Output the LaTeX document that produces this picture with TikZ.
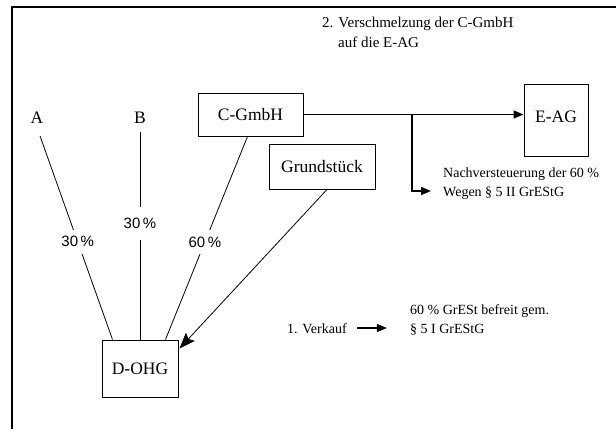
\documentclass[tikz,border=0pt]{standalone}
\usepackage{fontspec}
\setmainfont{Liberation Serif}
\newfontfamily\pctfont{Liberation Sans}
\usetikzlibrary{arrows.meta,calc}
\tikzset{
  box/.style={draw, line width=1pt, inner sep=0pt, font=\fontsize{17.5}{20}\selectfont},
  lbl/.style={inner sep=0pt, font=\fontsize{17.5}{20}\selectfont},
  note/.style={inner sep=0pt, align=left, anchor=base west, font=\fontsize{14}{19}\selectfont},
  pct/.style={fill=white, inner xsep=2pt, font=\pctfont\fontsize{15}{17}\selectfont},
  thin line/.style={line width=0.8pt},
  arr/.style={line width=1.5pt, -{Triangle[length=10pt,width=8pt]}},
}
\begin{document}
\begin{tikzpicture}[x=1pt,y=-1pt]
\useasboundingbox (0,0) rectangle (616,429);
% frame
\draw[line width=1.5pt] (12,429) -- (12,7) -- (616,7);

% nodes
\node[lbl] (A) at (37,118) {A};
\node[lbl] (B) at (140,118) {B};
\node[box, minimum width=105pt, minimum height=43pt] (C) at (250.5,114.5) {C-GmbH};
\node[box, minimum width=106pt, minimum height=45pt] (G) at (322,166.5) {Grundst\"uck};
\node[box, minimum width=64pt, minimum height=72pt] (E) at (556,120) {\raisebox{7pt}{E-AG}};
\node[box, minimum width=76pt, minimum height=57pt] (D) at (140,368.5) {D-OHG};

% texts
\node[note, font=\fontsize{15}{20}\selectfont] (T) at (322,47) {2. Verschmelzung der C-GmbH\\\hspace*{16pt}auf die E-AG};
\node[note] (N) at (443,196) {Nachversteuerung der 60 \%\\Wegen \S\ 5 II GrEStG};
\node[note] (V) at (287,333) {1. Verkauf};
\node[note] (F) at (410,333) {60 \% GrESt befreit gem.\\\S\ 5 I GrEStG};

% shareholder lines
\draw[thin line] ($(A.south)+(3,12)$) -- node[pct, pos=0.52, inner ysep=7pt] {30\,\%} ($(D.north west)+(11,0)$);
\draw[thin line] ($(B.south)+(0,8)$) -- node[pct, pos=0.44, inner ysep=11pt] {30\,\%} (D.north);
\draw[thin line] ($(C.south)+(-3,0)$) -- node[pct, pos=0.52, inner ysep=7pt] {60\,\%} ($(D.north east)+(-13,0)$);

% sale arrow
\draw[thin line, -{Stealth[length=16pt,width=12pt,inset=3pt]}] ($(G.south)+(5,0)$) -- ($(D.north east)+(1,9)$);

% merger arrow
\draw[arr] (C.east) -- (C.east -| E.west);
\coordinate (br) at (412,114.5);
\coordinate (nvtip) at (431,191);
\draw[arr] (br) |- (nvtip);

% Verkauf arrow
\draw[arr] ($(V.base east)+(10,-5)$) -- ($(V.base east)+(40,-5)$);
\end{tikzpicture}
\end{document}
